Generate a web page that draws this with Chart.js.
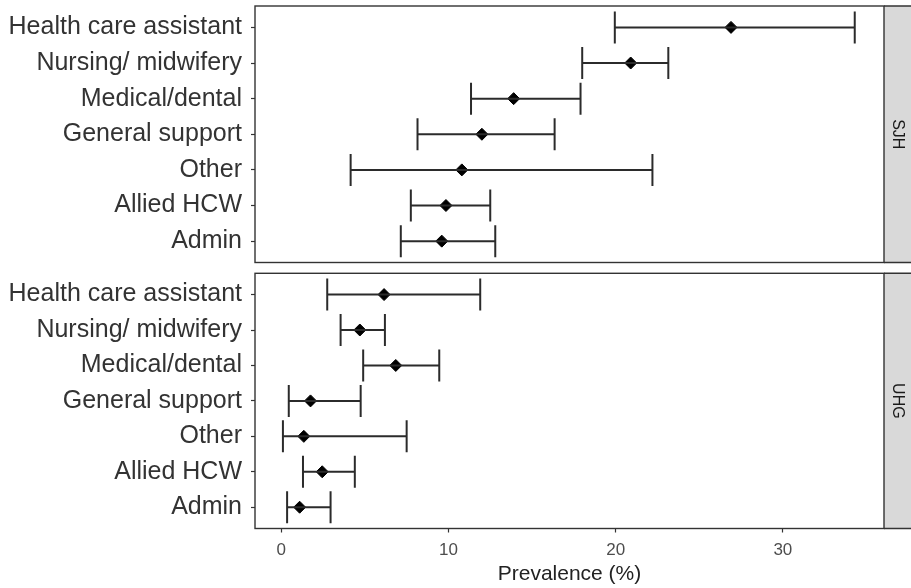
<!DOCTYPE html>
<html>
<head>
<meta charset="utf-8">
<script src="https://cdn.jsdelivr.net/npm/chart.js@4.4.0/dist/chart.umd.min.js"></script>
<style>
  html, body { margin: 0; padding: 0; background: #ffffff; }
  #wrap { position: relative; width: 911px; height: 588px; overflow: hidden; }
  canvas { position: absolute; left: 0; top: 0; }
</style>
</head>
<body>
<div id="wrap">
  <canvas id="c1" width="911" height="588"></canvas>
  <canvas id="c2" width="911" height="588"></canvas>
</div>
<script>
// ---- data ----
const categories = ["Health care assistant", "Nursing/ midwifery", "Medical/dental", "General support", "Other", "Allied HCW", "Admin"];
const panelNames = ["SJH", "UHG"];

const sjhEst  = [26.9, 20.9, 13.9, 12.0, 10.8, 9.85, 9.6];
const sjhLow  = [19.95, 18.0, 11.35, 8.15, 4.15, 7.75, 7.15];
const sjhHigh = [34.3, 23.15, 17.9, 16.35, 22.2, 12.5, 12.8];

const uhgEst  = [6.15, 4.7, 6.85, 1.75, 1.35, 2.45, 1.1];
const uhgLow  = [2.75, 3.55, 4.9, 0.45, 0.1, 1.3, 0.35];
const uhgHigh = [11.9, 6.2, 9.45, 4.75, 7.5, 4.4, 2.95];

const xTicks = [0, 10, 20, 30];
const xTitle = "Prevalence (%)";

// ---- style ----
const FONT = "'Liberation Sans', Arial, Helvetica, sans-serif";
const X_MIN = -1.57, X_MAX = 36.05;
const STRIP_W = 27;

function buildDatasets(est, low, high) {
  const ds = [];
  categories.forEach((c, i) => {
    ds.push({
      type: 'scatter',
      showLine: true,
      data: [{x: low[i], y: i}, {x: high[i], y: i}],
      borderColor: '#2b2b2b',
      borderWidth: 2,
      pointStyle: 'line',
      pointRotation: 90,
      pointRadius: 16,
      pointBorderWidth: 2,
      pointBorderColor: '#2b2b2b',
      pointBackgroundColor: '#2b2b2b',
      pointHoverRadius: 16
    });
  });
  ds.push({
    type: 'scatter',
    data: est.map((v, i) => ({x: v, y: i})),
    pointStyle: 'rectRot',
    pointRadius: 6,
    pointHoverRadius: 6,
    backgroundColor: '#000000',
    borderColor: '#000000',
    borderWidth: 1
  });
  return ds;
}

const panelPlugin = {
  id: 'panelBorder',
  afterDatasetsDraw(chart, args, opts) {
    const {ctx, chartArea: a} = chart;
    ctx.save();
    // strip
    ctx.fillStyle = '#d9d9d9';
    ctx.fillRect(a.right, a.top, STRIP_W + 5, a.bottom - a.top);
    ctx.strokeStyle = '#333333';
    ctx.lineWidth = 1.4;
    ctx.strokeRect(a.left, a.top, a.right - a.left, a.bottom - a.top);
    ctx.beginPath();
    ctx.moveTo(a.right, a.top); ctx.lineTo(a.right + STRIP_W + 5, a.top);
    ctx.moveTo(a.right, a.bottom); ctx.lineTo(a.right + STRIP_W + 5, a.bottom);
    ctx.stroke();
    // strip text
    ctx.translate(a.right + 13.5, (a.top + a.bottom) / 2);
    ctx.rotate(Math.PI / 2);
    ctx.fillStyle = '#1a1a1a';
    ctx.font = '16px ' + FONT;
    ctx.textAlign = 'center';
    ctx.textBaseline = 'middle';
    ctx.fillText(opts.label, 0, 0);
    ctx.restore();
  }
};

function makeChart(id, est, low, high, label, showX, padding) {
  return new Chart(document.getElementById(id), {
    type: 'scatter',
    data: { datasets: buildDatasets(est, low, high) },
    plugins: [panelPlugin],
    options: {
      responsive: false,
      animation: false,
      devicePixelRatio: 1,
      layout: { padding: padding, autoPadding: false },
      plugins: {
        legend: { display: false },
        tooltip: { enabled: false },
        panelBorder: { label: label }
      },
      scales: {
        x: {
          type: 'linear',
          display: showX,
          min: X_MIN,
          max: X_MAX,
          afterBuildTicks: (s) => { s.ticks = xTicks.map(v => ({value: v})); },
          afterFit: (s) => {
            s.height = showX ? 59.5 : 0;
            s.paddingLeft = 0; s.paddingRight = 0;
          },
          grid: {
            display: true,
            drawOnChartArea: false,
            drawTicks: true,
            tickLength: 4,
            tickColor: '#333333',
            tickWidth: 1.2
          },
          border: { display: false },
          ticks: {
            font: { family: FONT, size: 17 },
            color: '#4d4d4d',
            padding: 8,
            maxRotation: 0,
            autoSkip: false
          },
          title: {
            display: true,
            text: xTitle,
            font: { family: FONT, size: 21 },
            color: '#222222',
            padding: { top: 0, bottom: 1 }
          }
        },
        y: {
          type: 'linear',
          reverse: true,
          min: -0.6,
          max: 6.6,
          afterBuildTicks: (s) => { s.ticks = categories.map((c, i) => ({value: i})); },
          afterFit: (s) => {
            s.width = 255;
            s.paddingTop = 0; s.paddingBottom = 0;
          },
          grid: {
            display: true,
            drawOnChartArea: false,
            drawTicks: true,
            tickLength: 4,
            tickColor: '#333333',
            tickWidth: 1.2
          },
          border: { display: false },
          ticks: {
            font: { family: FONT, size: 25 },
            color: '#333333',
            padding: 9,
            autoSkip: false,
            callback: (v) => categories[v]
          }
        }
      }
    }
  });
}

makeChart('c1', sjhEst, sjhLow, sjhHigh, panelNames[0], false,
  { top: 6, bottom: 588 - 262.5, left: 0, right: STRIP_W });
makeChart('c2', uhgEst, uhgLow, uhgHigh, panelNames[1], true,
  { top: 273.3, bottom: 0, left: 0, right: STRIP_W });
</script>
</body>
</html>
